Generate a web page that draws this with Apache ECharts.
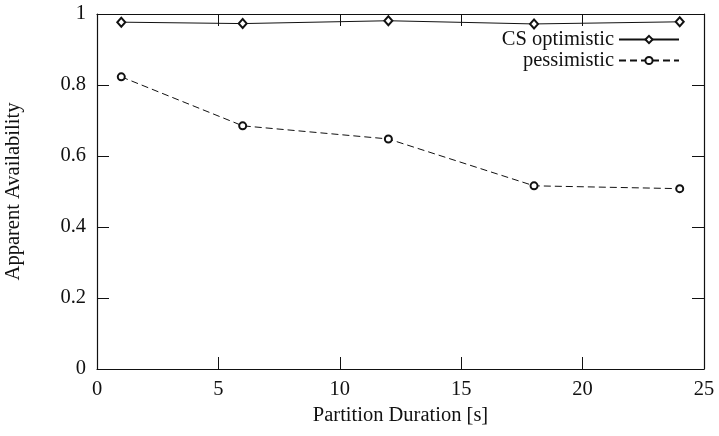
<!DOCTYPE html>
<html>
<head>
<meta charset="utf-8">
<script src="https://cdn.jsdelivr.net/npm/echarts@6/dist/echarts.min.js"></script>
<style>html,body{margin:0;padding:0;background:#fff;}#c{width:719px;height:436px;}</style>
</head>
<body>
<div id="c"></div>
<script>
const durations = [1, 6, 12, 18, 24];
const optimistic = [0.977, 0.973, 0.981, 0.972, 0.978];
const pessimistic = [0.823, 0.685, 0.648, 0.516, 0.508];
const seriesNames = ['CS optimistic', 'pessimistic'];
const xTitle = 'Partition Duration [s]';
const yTitle = 'Apparent Availability';

const FONT = 'Liberation Serif';
const FS = 20.5;
const chart = echarts.init(document.getElementById('c'), null, {renderer: 'canvas'});
const axisCommon = {
  axisLine: {show: true, onZero: false, lineStyle: {color: '#111', width: 1.2}},
  axisTick: {show: true, inside: true, length: 12, lineStyle: {color: '#111', width: 1}},
  splitLine: {show: false}
};
const legendCommon = {right: 34, align: 'right', itemWidth: 60, itemHeight: 9, itemGap: 6,
  textStyle: {fontFamily: FONT, fontSize: FS, color: '#111'}};
chart.setOption({
  animation: false,
  backgroundColor: '#fff',
  textStyle: {fontFamily: FONT},
  grid: {left: 97, right: 15, top: 14, bottom: 67, containLabel: false, outerBoundsMode: 'none'},
  legend: [
    Object.assign({data: [seriesNames[0]], top: 24}, legendCommon),
    Object.assign({data: [seriesNames[1]], top: 45}, legendCommon)
  ],
  xAxis: [
    Object.assign({type: 'value', min: 0, max: 25, interval: 5, position: 'bottom',
      name: xTitle, nameLocation: 'middle', nameGap: 35,
      nameTextStyle: {fontFamily: FONT, fontSize: FS, color: '#111'},
      axisLabel: {fontFamily: FONT, fontSize: FS, color: '#111', margin: 10}}, axisCommon),
    Object.assign({type: 'value', min: 0, max: 25, interval: 5, position: 'top',
      axisLabel: {show: false}}, axisCommon)
  ],
  yAxis: [
    Object.assign({type: 'value', min: 0, max: 1, interval: 0.2, position: 'left',
      name: yTitle, nameLocation: 'middle', nameGap: 73,
      nameTextStyle: {fontFamily: FONT, fontSize: FS, color: '#111'},
      axisLabel: {fontFamily: FONT, fontSize: FS, color: '#111', margin: 11}}, axisCommon),
    Object.assign({type: 'value', min: 0, max: 1, interval: 0.2, position: 'right',
      axisLabel: {show: false}}, axisCommon)
  ],
  series: [
    {name: seriesNames[0], type: 'line', data: durations.map((d, i) => [d, optimistic[i]]),
     symbol: 'emptyDiamond', symbolSize: [8, 9], showAllSymbol: true,
     itemStyle: {color: '#111', borderWidth: 0.8}, lineStyle: {color: '#111', width: 1},
     emphasis: {disabled: true}},
    {name: seriesNames[1], type: 'line', data: durations.map((d, i) => [d, pessimistic[i]]),
     symbol: 'emptyCircle', symbolSize: 7, showAllSymbol: true,
     itemStyle: {color: '#111', borderWidth: 0.8}, lineStyle: {color: '#111', width: 1, type: [7, 4]},
     emphasis: {disabled: true}}
  ]
});
</script>
</body>
</html>
